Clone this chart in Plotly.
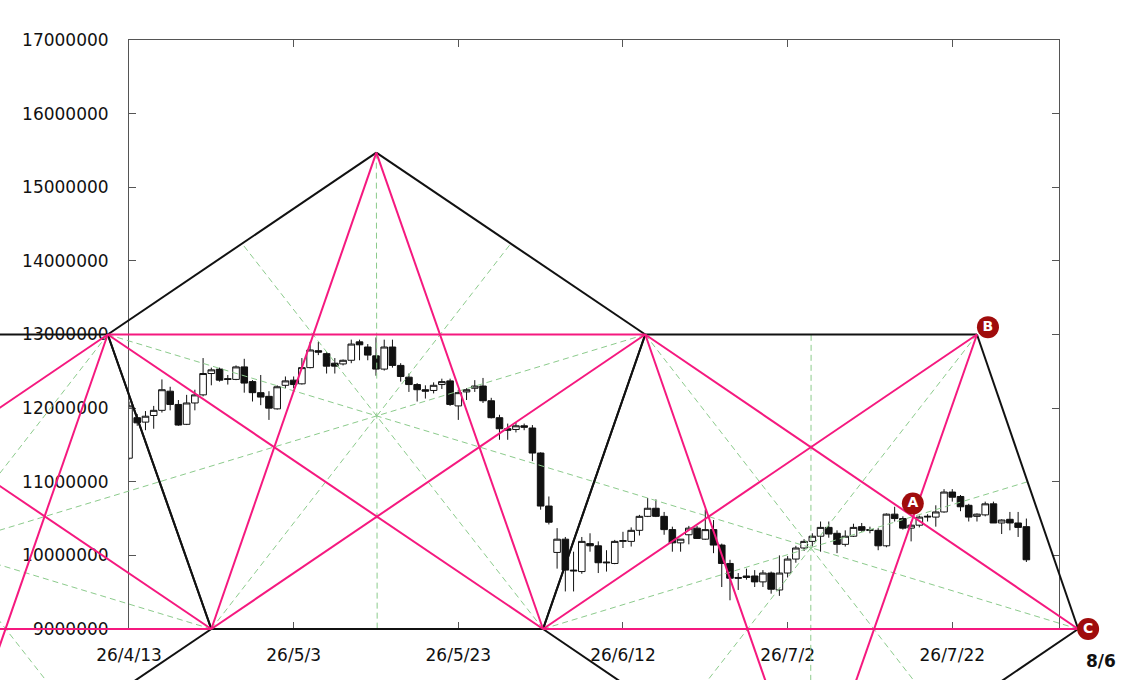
import pandas as pd
import plotly.graph_objects as go

# daily candles from 2026-04-13 to 2026-07-31 (yen)
opens = [
    11320000, 11870000, 11810000, 11900000, 11970000, 12230000, 12050000, 11780000, 12070000, 12180000,
    12470000, 12530000, 12400000, 12390000, 12560000, 12360000, 12210000, 12160000, 11990000, 12310000,
    12380000, 12330000, 12550000, 12780000, 12740000, 12610000, 12600000, 12650000, 12900000, 12830000,
    12710000, 12530000, 12830000, 12580000, 12420000, 12320000, 12250000, 12240000, 12320000, 12370000,
    12030000, 12220000, 12270000, 12300000, 12100000, 11870000, 11720000, 11710000, 11760000, 11730000,
    11390000, 10670000, 10040000, 10220000, 9800000, 9780000, 10160000, 10130000, 9910000, 9890000,
    10190000, 10190000, 10340000, 10530000, 10640000, 10530000, 10350000, 10170000, 10280000, 10370000,
    10220000, 10350000, 10140000, 9890000, 9700000, 9720000, 9720000, 9640000, 9760000, 9530000,
    9760000, 9950000, 10100000, 10190000, 10260000, 10380000, 10300000, 10150000, 10260000, 10390000,
    10350000, 10340000, 10130000, 10560000, 10500000, 10370000, 10410000, 10520000, 10520000, 10590000,
    10860000, 10800000, 10680000, 10530000, 10550000, 10700000, 10440000, 10490000, 10440000, 10390000,
]
highs = [
    12090000, 11920000, 11960000, 12030000, 12390000, 12290000, 12110000, 12180000, 12250000, 12680000,
    12550000, 12550000, 12450000, 12580000, 12670000, 12380000, 12450000, 12230000, 12310000, 12430000,
    12430000, 12680000, 12900000, 12900000, 12760000, 12680000, 12660000, 12930000, 12930000, 12870000,
    12960000, 12930000, 12930000, 12610000, 12470000, 12340000, 12310000, 12350000, 12400000, 12400000,
    12250000, 12270000, 12380000, 12410000, 12140000, 11910000, 11790000, 11800000, 11790000, 11770000,
    11400000, 10800000, 10370000, 10250000, 10050000, 10250000, 10300000, 10190000, 10070000, 10210000,
    10320000, 10380000, 10550000, 10780000, 10760000, 10590000, 10390000, 10220000, 10400000, 10400000,
    10620000, 10480000, 10160000, 9940000, 9760000, 9820000, 9800000, 9800000, 9780000, 10000000,
    9990000, 10130000, 10220000, 10300000, 10460000, 10460000, 10340000, 10340000, 10430000, 10440000,
    10390000, 10370000, 10570000, 10660000, 10530000, 10460000, 10540000, 10560000, 10680000, 10900000,
    10900000, 10820000, 10700000, 10570000, 10730000, 10730000, 10490000, 10590000, 10590000, 10500000,
]
lows = [
    11300000, 11760000, 11700000, 11720000, 11940000, 11970000, 11760000, 11770000, 11970000, 12160000,
    12310000, 12360000, 12320000, 12380000, 12210000, 12090000, 12040000, 11840000, 11980000, 12270000,
    12270000, 12320000, 12540000, 12720000, 12470000, 12470000, 12580000, 12610000, 12650000, 12650000,
    12440000, 12510000, 12550000, 12360000, 12220000, 12090000, 12130000, 12200000, 12260000, 12030000,
    11840000, 12110000, 12220000, 12070000, 11860000, 11570000, 11570000, 11670000, 11700000, 11280000,
    10620000, 10420000, 9820000, 9510000, 9510000, 9750000, 10050000, 9760000, 9780000, 9880000,
    10100000, 10120000, 10270000, 10520000, 10520000, 10280000, 10050000, 10050000, 10150000, 10240000,
    10210000, 10030000, 9570000, 9390000, 9530000, 9670000, 9570000, 9570000, 9480000, 9450000,
    9700000, 9900000, 10060000, 10120000, 10050000, 10240000, 10030000, 10120000, 10250000, 10320000,
    10300000, 10070000, 10110000, 10460000, 10350000, 10190000, 10380000, 10460000, 10390000, 10580000,
    10730000, 10600000, 10460000, 10460000, 10530000, 10440000, 10290000, 10340000, 10250000, 9910000,
]
closes = [
    12030000, 11800000, 11890000, 11970000, 12250000, 12050000, 11770000, 12070000, 12180000, 12470000,
    12520000, 12380000, 12390000, 12560000, 12340000, 12210000, 12150000, 12000000, 12290000, 12370000,
    12320000, 12550000, 12790000, 12760000, 12570000, 12570000, 12650000, 12870000, 12860000, 12720000,
    12530000, 12830000, 12580000, 12430000, 12320000, 12250000, 12230000, 12310000, 12360000, 12050000,
    12210000, 12250000, 12300000, 12100000, 11870000, 11720000, 11700000, 11760000, 11740000, 11390000,
    10670000, 10450000, 10220000, 9800000, 9790000, 10190000, 10130000, 9900000, 9900000, 10190000,
    10200000, 10340000, 10530000, 10640000, 10530000, 10350000, 10170000, 10220000, 10370000, 10230000,
    10350000, 10140000, 9890000, 9690000, 9690000, 9700000, 9640000, 9760000, 9540000, 9760000,
    9950000, 10100000, 10190000, 10260000, 10380000, 10290000, 10150000, 10260000, 10380000, 10340000,
    10340000, 10130000, 10560000, 10500000, 10370000, 10410000, 10520000, 10530000, 10590000, 10860000,
    10790000, 10660000, 10520000, 10560000, 10700000, 10440000, 10480000, 10440000, 10380000, 9940000,
]
candle_dates = pd.date_range("2026-04-13", periods=len(opens), freq="D")

tick_dates = ["2026-04-13", "2026-05-03", "2026-05-23", "2026-06-12", "2026-07-02", "2026-07-22"]
tick_labels = ["26/4/13", "26/5/3", "26/5/23", "26/6/12", "26/7/2", "26/7/22"]
price_ticks = [9000000, 10000000, 11000000, 12000000, 13000000, 14000000, 15000000, 16000000, 17000000]

# pentagon corners of the time/price figure
vertex_names = ["BL", "TL", "D0", "P1", "P2", "P3", "P4", "P5", "D", "B", "C"]
vertex_dates = [
    "2026-02-16 17:00", "2026-03-01 02:00", "2026-03-21 08:00", "2026-04-10 10:00", "2026-04-23 00:00",
    "2026-05-13 01:00", "2026-06-02 07:00", "2026-06-14 17:00", "2026-07-04 19:00", "2026-07-25 00:00",
    "2026-08-06 07:00",
]
vertex_prices = [9000000, 13000000, 6530000, 13000000, 9000000, 15470000, 9000000, 13000000, 6530000,
                 13000000, 9000000]
pentagons = [
    ["TL", "P1", "P2", "D0", "BL"],
    ["P1", "P3", "P5", "P4", "P2"],
    ["P5", "B", "C", "D", "P4"],
]

label_names = ["A", "B", "C"]
label_dates = ["2026-07-17 05:00", "2026-07-26 08:00", "2026-08-07 12:00"]
label_prices = [10705000, 13100000, 9000000]
c_caption = "8/6"

W, H = 1134, 680
X_DOMAIN = [129 / W, 1059.3 / W]
Y_DOMAIN = [1 - 629 / H, 1 - 40 / H]
X_RANGE = [pd.Timestamp("2026-04-13"), pd.Timestamp("2026-08-04")]
Y_RANGE = [9000000, 17000000]

BLACK = "#111111"
PINK = "#f5197f"
GREEN = "#8ccb8c"
AXIS = "#555555"
FONT = "DejaVu Sans"

pts = {n: (pd.Timestamp(d), p) for n, d, p in zip(vertex_names, vertex_dates, vertex_prices)}


def mid(a, b):
    (xa, ya), (xb, yb) = pts[a], pts[b]
    return xa + (xb - xa) / 2, (ya + yb) / 2


def add_seg(store, a, b):
    store[0] += [a[0], b[0], None]
    store[1] += [a[1], b[1], None]


# pentagon sides (black), star diagonals (pink), corner -> opposite side midpoint (green)
edges, stars, rays = [[], []], [[], []], [[], []]
for pent in pentagons:
    for i in range(5):
        add_seg(edges, pts[pent[i]], pts[pent[(i + 1) % 5]])
        add_seg(stars, pts[pent[i]], pts[pent[(i + 2) % 5]])
        add_seg(rays, pts[pent[i]], mid(pent[(i + 2) % 5], pent[(i + 3) % 5]))


def full_range(lo, hi, dom):
    span = hi - lo
    width = dom[1] - dom[0]
    return [lo - span * (dom[0] / width), hi + span * ((1 - dom[1]) / width)]


# second pair of axes covering the whole page, same scale, so lines run past the frame
fx = full_range(X_RANGE[0], X_RANGE[1], X_DOMAIN)
fy = full_range(Y_RANGE[0], Y_RANGE[1], Y_DOMAIN)

fig = go.Figure()
fig.add_trace(go.Candlestick(
    x=candle_dates, open=opens, high=highs, low=lows, close=closes,
    increasing=dict(fillcolor="white", line=dict(color=BLACK, width=1)),
    decreasing=dict(fillcolor=BLACK, line=dict(color=BLACK, width=1)),
    whiskerwidth=0, showlegend=False, xaxis="x", yaxis="y",
))
fig.add_trace(go.Scatter(x=rays[0], y=rays[1], mode="lines", xaxis="x2", yaxis="y2",
                         line=dict(color=GREEN, width=1, dash="6px,4px"), showlegend=False))
fig.add_trace(go.Scatter(x=edges[0], y=edges[1], mode="lines", xaxis="x2", yaxis="y2",
                         line=dict(color=BLACK, width=2), showlegend=False))
fig.add_trace(go.Scatter(x=stars[0], y=stars[1], mode="lines", xaxis="x2", yaxis="y2",
                         line=dict(color=PINK, width=2), showlegend=False))
fig.add_trace(go.Scatter(
    x=label_dates, y=label_prices, mode="markers+text", text=label_names,
    textposition="middle center", xaxis="x2", yaxis="y2", showlegend=False,
    marker=dict(size=22, color="#a00c0c", line=dict(width=0)),
    textfont=dict(family=FONT, size=14, color="white", weight="bold"),
))

fig.add_annotation(x=pts["C"][0], y=pts["C"][1], xref="x2", yref="y2", text=c_caption,
                   showarrow=False, xshift=23, yshift=-32,
                   font=dict(family=FONT, size=17, color=BLACK, weight="bold"))

axis_common = dict(showline=True, linecolor=AXIS, linewidth=1, mirror="ticks", ticks="inside",
                   ticklen=7, tickcolor=AXIS, showgrid=False, zeroline=False, automargin=False,
                   tickfont=dict(family=FONT, size=17, color=BLACK))

fig.update_layout(
    width=W, height=H, autosize=False,
    margin=dict(l=0, r=0, t=0, b=0),
    paper_bgcolor="white", plot_bgcolor="rgba(0,0,0,0)",
    boxgap=0.2, boxgroupgap=0,
    xaxis=dict(domain=X_DOMAIN, anchor="y", type="date", range=[str(v) for v in X_RANGE],
               tickvals=tick_dates, ticktext=tick_labels, rangeslider=dict(visible=False),
               ticklabelstandoff=11, **axis_common),
    yaxis=dict(domain=Y_DOMAIN, anchor="x", range=Y_RANGE, tickvals=price_ticks,
               ticktext=[str(v) for v in price_ticks], ticklabelstandoff=16, **axis_common),
    xaxis2=dict(domain=[0, 1], anchor="y2", type="date", range=[str(v) for v in fx],
                visible=False, fixedrange=True),
    yaxis2=dict(domain=[0, 1], anchor="x2", range=fy, visible=False, fixedrange=True),
)

# the page body keeps a default 8px margin; drop it so the figure fills the window
fig.write_html("out.html", config={"displayModeBar": False},
               post_script="document.body.style.margin = '0';")
